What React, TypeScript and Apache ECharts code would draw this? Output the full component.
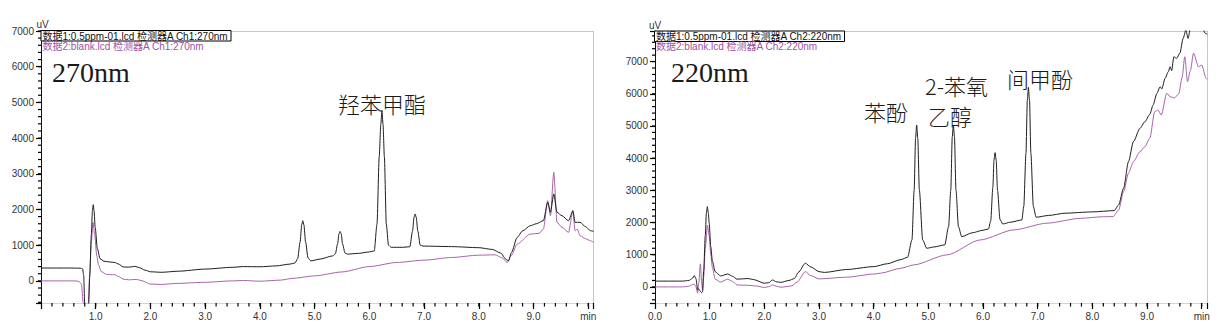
import React, { useEffect, useRef } from 'react';
import * as echarts from 'echarts';

// ---------- 270 nm panel ----------
const t270Sample = [0, 0.5, 0.72, 0.76, 0.78, 0.80, 0.84, 0.87, 0.89, 0.92,
  0.94, 0.955, 0.97, 0.99, 1.03, 1.08, 1.15, 1.25, 1.35, 1.42,
  1.5, 1.6, 1.72, 1.8, 1.9, 2.0, 2.2, 2.5, 3.0, 3.5,
  3.7, 4.0, 4.3, 4.55, 4.64, 4.69, 4.735, 4.764, 4.784, 4.804,
  4.835, 4.88, 4.93, 5.1, 5.33, 5.38, 5.42, 5.446, 5.466, 5.486,
  5.51, 5.555, 5.6, 5.8, 6.0, 6.09, 6.14, 6.18, 6.21, 6.23,
  6.25, 6.275, 6.31, 6.35, 6.4, 6.6, 6.74, 6.79, 6.817, 6.837,
  6.857, 6.885, 6.93, 6.98, 7.5, 8.0, 8.25, 8.4, 8.5, 8.54,
  8.6, 8.7, 8.8, 8.94, 9.05, 9.18, 9.26, 9.31, 9.37, 9.43,
  9.52, 9.64, 9.72, 9.76, 9.85, 9.95, 10.04, 10.1];
const v270Sample = [360, 360, 355, 335, 150, -700, -900, -700, 100, 1300,
  1980, 2135, 1950, 1500, 900, 620, 550, 530, 515, 470,
  390, 385, 405, 370, 300, 255, 240, 270, 330, 380,
  400, 395, 420, 470, 500, 620, 1090, 1570, 1685, 1570,
  1090, 640, 560, 610, 700, 760, 1040, 1320, 1385, 1320,
  1040, 780, 750, 770, 810, 840, 1590, 3465, 4390, 4780,
  4390, 3465, 1590, 1000, 940, 940, 955, 1400, 1780, 1873,
  1780, 1400, 1000, 975, 960, 930, 880, 780, 600, 560,
  800, 1215, 1400, 1545, 1600, 1685, 2200, 1920, 2435, 1920,
  1825, 1685, 1965, 1640, 1640, 1520, 1405, 1385];

const t270Blank = [0, 0.6, 0.68, 0.71, 0.74, 0.77, 0.80, 0.84, 0.865, 0.89,
  0.92, 0.95, 0.98, 1.02, 1.05, 1.1, 1.2, 1.3, 1.35, 1.42,
  1.5, 1.6, 1.75, 1.85, 2.0, 2.2, 2.5, 3.0, 3.5, 3.7,
  4.0, 4.37, 4.6, 5.0, 5.5, 6.0, 6.5, 7.0, 7.5, 8.0,
  8.3, 8.42, 8.52, 8.6, 8.7, 8.94, 9.1, 9.18, 9.26, 9.31,
  9.37, 9.43, 9.52, 9.64, 9.72, 9.76, 9.8, 9.85, 9.95, 10.04,
  10.1];
const v270Blank = [0, 0, -10, -40, -100, -600, -900, -950, -600, 200,
  1100, 1640, 1300, 700, 450, 260, 180, 170, 175, 120,
  50, 30, 40, 0, -90, -100, -70, -40, 0, 10,
  -10, 20, 70, 140, 250, 400, 515, 580, 655, 720,
  730, 650, 515, 720, 1030, 1310, 1330, 1450, 2250, 1825,
  3040, 1640, 1500, 1360, 1965, 1405, 1450, 1265, 1180, 1125,
  1075];

// ---------- 220 nm panel ----------
const t220Sample = [0, 0.5, 0.62, 0.68, 0.72, 0.75, 0.78, 0.80, 0.82, 0.85,
  0.87, 0.89, 0.92, 0.94, 0.957, 0.975, 0.99, 1.02, 1.05, 1.1,
  1.2, 1.33, 1.42, 1.5, 1.6, 1.7, 1.8, 2.0, 2.08, 2.15,
  2.22, 2.3, 2.45, 2.55, 2.62, 2.75, 2.85, 3.0, 3.1, 3.5,
  4.0, 4.25, 4.5, 4.62, 4.70, 4.74, 4.766, 4.786, 4.806, 4.835,
  4.896, 4.97, 5.1, 5.30, 5.37, 5.41, 5.437, 5.457, 5.477, 5.505,
  5.55, 5.61, 5.8, 6.0, 6.1, 6.14, 6.18, 6.2, 6.22, 6.24,
  6.265, 6.31, 6.36, 6.5, 6.71, 6.745, 6.785, 6.81, 6.83, 6.85,
  6.875, 6.92, 6.97, 7.2, 7.5, 8.0, 8.4, 8.48, 8.57, 8.66,
  8.75, 8.87, 8.96, 9.05, 9.11, 9.18, 9.24, 9.27, 9.33, 9.39,
  9.42, 9.45, 9.49, 9.54, 9.60, 9.66, 9.71, 9.75, 9.80, 9.9,
  10.0, 10.06, 10.1];
const v220Sample = [180, 180, 200, 260, 350, 250, -90, -60, -120, -180,
  -150, 500, 1600, 2300, 2495, 2300, 2000, 1250, 800, 475,
  340, 400, 330, 240, 250, 260, 230, 115, 130, 215,
  160, 140, 200, 260, 450, 735, 620, 475, 450, 540,
  630, 720, 850, 920, 1460, 3010, 4620, 5030, 4620, 3010,
  1460, 1200, 1240, 1305, 1875, 3010, 4660, 5030, 4660, 3010,
  1875, 1560, 1680, 1760, 1800, 2050, 3100, 3940, 4170, 3940,
  3000, 2100, 1955, 2010, 2080, 2500, 4150, 5790, 6200, 5790,
  4150, 2500, 2165, 2220, 2290, 2330, 2370, 2545, 3065, 3890,
  4510, 4925, 5130, 5360, 5650, 6015, 6220, 6150, 6480, 6690,
  6840, 6720, 7150, 7100, 7260, 7720, 7980, 7720, 8100, 8400,
  8200, 7880, 7850];

const t220Blank = [0, 0.5, 0.62, 0.68, 0.72, 0.75, 0.78, 0.80, 0.83, 0.855,
  0.87, 0.89, 0.92, 0.96, 0.99, 1.02, 1.05, 1.1, 1.2, 1.33,
  1.42, 1.5, 1.7, 1.85, 2.0, 2.08, 2.15, 2.22, 2.3, 2.5,
  2.6, 2.75, 2.85, 3.0, 3.5, 4.0, 4.12, 4.5, 4.73, 5.34,
  5.95, 6.56, 7.17, 7.78, 8.2, 8.38, 8.48, 8.57, 8.66, 8.75,
  8.87, 8.96, 9.05, 9.14, 9.20, 9.26, 9.36, 9.42, 9.5, 9.58,
  9.64, 9.69, 9.74, 9.79, 9.85, 9.94, 10.0, 10.08, 10.1];
const v220Blank = [0, 0, 20, 70, 85, 0, -195, 100, 715, 100,
  -100, 300, 1200, 1915, 1600, 1000, 600, 240, 150, 240,
  170, 60, 50, 30, -20, 10, 60, 20, -10, 30,
  150, 475, 350, 250, 300, 400, 425, 580, 683, 995,
  1460, 1770, 1980, 2130, 2180, 2185, 2390, 2960, 3530, 3890,
  4200, 4355, 4615, 5445, 5495, 5340, 6015, 5910, 5870, 6000,
  6500, 7150, 6375, 6700, 7260, 6840, 6895, 6480, 6450];

// ---------- axis ranges and tick steps ----------
const timeRange = [0, 10.1];
const yRange270 = [-620, 7000];
const yRange220 = [-500, 7950];
const majorTimeStep = 1;
const minorTimeStep = 0.2;
const majorSignalStep = 1000;
const minorSignalStep = 200;

const legend270 = ['数据1:0.5ppm-01.lcd 检测器A Ch1:270nm', '数据2:blank.lcd 检测器A Ch1:270nm'];
const legend220 = ['数据1:0.5ppm-01.lcd 检测器A Ch2:220nm', '数据2:blank.lcd 检测器A Ch2:220nm'];

const SANS = '"Liberation Sans", Arial, "Noto Sans CJK SC", sans-serif';
const CJK = '"Noto Sans CJK SC", sans-serif';
const SERIF = '"Liberation Serif", "Times New Roman", serif';
const BLACK = '#1e1e1e';
const PURPLE = '#a862ab';
const PURPLE_TEXT = '#9d52a3';

function zip(t: number[], v: number[]) {
  return t.map((x, i) => [x, v[i]]);
}

function stepValues(from: number, to: number, step: number) {
  const out: number[] = [];
  const first = Math.ceil(from / step - 1e-9);
  for (let k = first; k * step <= to + 1e-9; k++) out.push(Math.round(k * step * 1000) / 1000);
  return out;
}

const isWhole = (v: number) => Math.abs(v - Math.round(v)) < 1e-6;

function panelAxes(g: number, showZeroTime: boolean, yRange: number[]) {
  const xAxis = {
    type: 'value', gridIndex: g, min: timeRange[0], max: timeRange[1], interval: majorTimeStep,
    position: 'bottom', splitLine: { show: false },
    axisLine: { show: true, onZero: false, lineStyle: { color: '#d4d4d4', width: 1 } },
    axisTick: { show: true, length: 6, lineStyle: { color: '#000', width: 1.2 } },
    axisLabel: {
      margin: 8, fontSize: 10, color: '#333', fontFamily: SANS, showMinLabel: true, showMaxLabel: true,
      formatter: (v: number) => {
        if (!isWhole(v)) return '';
        if (v === 0 && !showZeroTime) return '';
        if (Math.round(v) === 10) return 'min';
        return v.toFixed(1);
      },
    },
  };
  const xTop = {
    type: 'value', gridIndex: g, min: timeRange[0], max: timeRange[1], position: 'top',
    splitLine: { show: false }, axisTick: { show: false }, axisLabel: { show: false },
    axisLine: { show: true, onZero: false, lineStyle: { color: '#c6c6c6', width: 1 } },
  };
  const yAxis = {
    type: 'value', gridIndex: g, min: yRange[0], max: yRange[1],
    minInterval: majorSignalStep, maxInterval: majorSignalStep,
    position: 'left', splitLine: { show: false },
    axisLine: { show: true, onZero: false, lineStyle: { color: '#111', width: 1 } },
    axisTick: { show: true, length: 5, lineStyle: { color: '#000', width: 1.2 } },
    axisLabel: {
      margin: 7, fontSize: 10, color: '#333', fontFamily: SANS, showMinLabel: true, showMaxLabel: true,
      formatter: (v: number) => (v % majorSignalStep === 0 ? String(v) : ''),
    },
  };
  const yRight = {
    type: 'value', gridIndex: g, min: yRange[0], max: yRange[1], position: 'right',
    splitLine: { show: false }, axisTick: { show: false }, axisLabel: { show: false },
    axisLine: { show: true, onZero: false, lineStyle: { color: '#c6c6c6', width: 1 } },
  };
  return { xAxes: [xAxis, xTop], yAxes: [yAxis, yRight] };
}

// minor tick marks placed through the axes' own scales (api.coord)
function tickSeries(axisIdx: number, yRange: number[]) {
  const data: number[][] = [];
  stepValues(timeRange[0] + minorTimeStep, 10, minorTimeStep).forEach((t) => {
    data.push([t, yRange[0], 0]);
  });
  stepValues(yRange[0], yRange[1], minorSignalStep).forEach((v) => {
    data.push([timeRange[0], v, 1]);
  });
  return {
    type: 'custom', xAxisIndex: axisIdx, yAxisIndex: axisIdx, clip: false,
    data,
    renderItem: (_p: any, api: any) => {
      const p = api.coord([api.value(0), api.value(1)]);
      if (api.value(2) === 0) {
        return { type: 'line', shape: { x1: p[0], y1: p[1], x2: p[0], y2: p[1] + 3.5 }, style: { stroke: '#000', lineWidth: 1.2 } };
      }
      return { type: 'line', shape: { x1: p[0] - 3, y1: p[1], x2: p[0], y2: p[1] }, style: { stroke: '#000', lineWidth: 1.2 } };
    },
  };
}

function lineSeries(data: number[][], axisIdx: number, color: string, name: string) {
  return {
    type: 'line', name, data, xAxisIndex: axisIdx, yAxisIndex: axisIdx,
    showSymbol: false, symbol: 'none', smooth: 0.25, smoothMonotone: 'x', clip: true,
    lineStyle: { color, width: 1 }, emphasis: { disabled: true }, silent: true,
  };
}

function legendGraphics(x: number, y: number, w: number, lines: string[]) {
  return [
    { type: 'rect', z: 100, shape: { x, y, width: w, height: 10.5 }, style: { fill: '#fff', stroke: '#000', lineWidth: 1 } },
    { type: 'text', z: 101, x: x + 1.5, y: y + 5.5, style: { text: lines[0], fill: '#111', fontSize: 10, fontFamily: SANS, verticalAlign: 'middle', align: 'left' } },
    { type: 'text', z: 101, x: x + 1.5, y: y + 15.5, style: { text: lines[1], fill: PURPLE_TEXT, fontSize: 10, fontFamily: SANS, verticalAlign: 'middle', align: 'left' } },
  ];
}

function label(text: string, x: number, y: number, size: number, family: string, weight: string | number = 'normal') {
  return { type: 'text', z: 101, x, y, style: { text, fill: '#1a1a1a', fontSize: size, fontFamily: family, fontWeight: weight, verticalAlign: 'middle', align: 'left' } };
}

export default function App() {
  const ref = useRef<HTMLDivElement>(null);
  useEffect(() => {
    if (!ref.current) return;
    const chart = echarts.init(ref.current, null, { renderer: 'svg' });
    const p1 = panelAxes(0, false, yRange270);
    const p2 = panelAxes(1, true, yRange220);
    const option: any = {
      animation: false,
      backgroundColor: '#fff',
      grid: [
        { left: 41, top: 31, width: 552.7, height: 272 },
        { left: 655, top: 31, width: 552.2, height: 272 },
      ],
      xAxis: [...p1.xAxes, ...p2.xAxes],
      yAxis: [...p1.yAxes, ...p2.yAxes],
      series: [
        tickSeries(0, yRange270),
        tickSeries(2, yRange220),
        lineSeries(zip(t270Blank, v270Blank), 0, PURPLE, '数据2:blank 270nm'),
        lineSeries(zip(t270Sample, v270Sample), 0, BLACK, '数据1:0.5ppm-01 270nm'),
        lineSeries(zip(t220Blank, v220Blank), 2, PURPLE, '数据2:blank 220nm'),
        lineSeries(zip(t220Sample, v220Sample), 2, BLACK, '数据1:0.5ppm-01 220nm'),
      ],
      graphic: [
        { type: 'text', z: 101, x: 42.5, y: 24.5, style: { text: 'uV', fill: '#333', fontSize: 10, fontFamily: SANS, align: 'center', verticalAlign: 'middle' } },
        { type: 'text', z: 101, x: 655, y: 25, style: { text: 'uV', fill: '#333', fontSize: 10, fontFamily: SANS, align: 'center', verticalAlign: 'middle' } },
        ...legendGraphics(41, 30.5, 190, legend270),
        ...legendGraphics(654.5, 31, 190, legend220),
        label('270nm', 52, 72.5, 28, SERIF),
        label('220nm', 671, 72.5, 28, SERIF),
        label('羟苯甲酯', 338, 103, 22, CJK, 300),
        label('苯酚', 864, 110.5, 22, CJK, 300),
        label('2-苯氧', 925, 85, 22, CJK, 300),
        label('乙醇', 928, 115, 22, CJK, 300),
        label('间甲酚', 1007, 77.5, 22, CJK, 300),
      ],
    };
    chart.setOption(option);
    return () => chart.dispose();
  }, []);
  return <div ref={ref} style={{ position: 'fixed', left: 0, top: 0, width: 1224, height: 335, background: '#fff' }} />;
}
